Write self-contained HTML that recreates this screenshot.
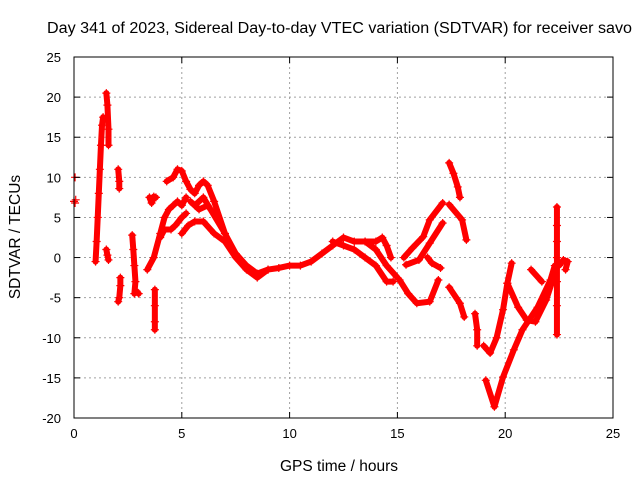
<!DOCTYPE html>
<html><head><meta charset="utf-8"><style>
body{margin:0;background:#fff;width:640px;height:480px;overflow:hidden}
svg{display:block;font-family:"Liberation Sans",sans-serif}
</style></head><body>
<svg id="chart" width="640" height="480" viewBox="0 0 640 480"></svg>
<script>
const xTicks=[0,5,10,15,20,25];
const yTicks=[-20,-15,-10,-5,0,5,10,15,20,25];
const traceStart=[[0,7],[0.05,6.8],[0.08,7.2],[0.05,10]];
const traceRise1=[[1.0,-0.5],[1.05,2],[1.1,5],[1.15,8],[1.2,11],[1.25,14],[1.3,16.5],[1.35,17.5]];
const traceRise2=[[1.5,20.5],[1.55,19],[1.6,16],[1.6,14]];
const traceLow1=[[1.5,1],[1.55,0.3],[1.6,-0.3]];
const traceSpk2a=[[2.05,11],[2.1,9.5],[2.1,8.6]];
const traceSpk2b=[[2.15,-2.5],[2.15,-3.5],[2.1,-5],[2.05,-5.5]];
const traceSeg3=[[2.7,2.8],[2.75,1],[2.8,-1],[2.85,-3],[2.8,-4.5],[2.9,-4.2],[3.0,-4.5]];
const traceSeg4=[[3.5,7.5],[3.6,6.8],[3.7,7.6],[3.8,7.5]];
const traceSeg5=[[3.75,-4],[3.75,-6],[3.75,-8],[3.75,-9]];
const traceLower=[[3.4,-1.5],[3.7,0],[4.0,3],[4.2,5],[4.4,6],[4.6,6.5],[4.8,7],[5.0,6.5],[5.2,7.5]];
const traceMid=[[4.0,2.5],[4.2,3.5],[4.5,3.5],[4.7,4],[5.0,5],[5.2,5.5]];
const traceTop=[[4.3,9.5],[4.6,10],[4.8,11],[5.0,10.8],[5.2,9.5],[5.4,8.5],[5.6,8],[5.8,9],[6.0,9.5],[6.2,9],[6.5,7],[7.0,3],[7.5,0.5],[8.0,-1],[8.5,-2],[9.0,-1.5],[9.5,-1.3],[10,-1],[10.5,-1],[11,-0.5],[11.5,0.5],[12,1.5],[12.5,2.5],[13,2],[13.5,2],[14,1],[14.5,-1],[15,-2.5]];
const traceBelow=[[5.0,3],[5.3,4],[5.6,4.5],[6.0,4.5],[6.5,3],[7,2],[7.5,0],[8,-1.5],[8.5,-2.5],[9,-1.5]];
const traceFill=[[5.4,7],[5.8,6],[6.2,6.5],[6.6,5],[7,3],[6.0,7.5],[5.6,6.5]];
const traceMid2=[[12,2],[12.5,1.5],[13,1],[13.5,0],[14,-1],[14.5,-3],[14.8,-3]];
const traceMid3=[[13.5,2],[14,2],[14.3,2.5],[14.5,1.5],[14.7,0]];
const traceUp1=[[15.3,0],[15.7,1.2],[16.2,2.6],[16.5,4.7],[17.1,6.8]];
const traceUp2=[[15.4,-0.9],[16.0,-0.3],[16.5,1.8],[17.1,4.3]];
const traceLoop=[[15.1,-2.8],[15.5,-4.5],[15.9,-5.7],[16.5,-5.5],[16.9,-2.8]];
const traceInner=[[16.4,0],[16.6,-0.7],[17.0,-1.3]];
const traceHigh=[[17.4,11.8],[17.6,10.5],[17.8,8.8],[17.9,7.5]];
const traceHigh2=[[17.4,6.6],[18.0,4.7],[18.2,2.2]];
const traceDrop=[[17.4,-3.7],[17.9,-5.7],[18.1,-7.4]];
const traceDrop2=[[18.6,-7],[18.7,-9],[18.7,-11]];
const traceV=[[19.1,-15.3],[19.5,-18.6],[19.9,-14.9],[20.4,-11.5],[20.8,-9],[21.5,-6.2],[22.1,-2.8],[22.3,-1]];
const traceV2=[[19.0,-11],[19.3,-11.9],[19.6,-10],[19.9,-6.5],[20.1,-3.2],[20.3,-0.7]];
const traceBranch=[[20.1,-3.2],[20.6,-6.2],[21.0,-7.8],[21.4,-8],[21.9,-5.3],[22.2,-2.8]];
const traceBranch2=[[21.2,-1.5],[21.7,-3]];
const traceSpike=[[22.4,6.3],[22.4,4],[22.4,2],[22.4,0],[22.4,-3],[22.4,-6],[22.4,-9.6]];
const traceEnd=[[22.5,-1],[22.7,-0.3],[22.9,-0.5],[22.8,-1.5]];
const allTraces=[traceStart,traceRise1,traceRise2,traceLow1,traceSpk2a,traceSpk2b,traceSeg3,traceSeg4,traceSeg5,traceLower,traceMid,traceTop,traceBelow,traceFill,traceMid2,traceMid3,traceUp1,traceUp2,traceLoop,traceInner,traceHigh,traceHigh2,traceDrop,traceDrop2,traceV,traceV2,traceBranch,traceBranch2,traceSpike,traceEnd];
const connected=[false,true,true,true,true,true,true,true,true,true,true,true,true,true,true,true,true,true,true,true,true,true,true,true,true,true,true,true,true,true];

const L=74,R=613,T=57,B=418,xMin=0,xMax=25,yMin=-20,yMax=25;
const sx=v=>L+(v-xMin)/(xMax-xMin)*(R-L);
const sy=v=>B-(v-yMin)/(yMax-yMin)*(B-T);
const NS="http://www.w3.org/2000/svg";
const svg=document.getElementById('chart');
function mk(tag,attrs,parent){const e=document.createElementNS(NS,tag);for(const k in attrs)e.setAttribute(k,attrs[k]);(parent||svg).appendChild(e);return e;}

const grid=mk('g',{});


xTicks.forEach(t=>{if(t>xMin&&t<xMax)mk('line',{x1:sx(t),x2:sx(t),y1:T,y2:B,stroke:'#a0a0a0','stroke-dasharray':'2,3'},grid);});
yTicks.forEach(t=>{if(t>yMin&&t<yMax)mk('line',{x1:L,x2:R,y1:sy(t),y2:sy(t),stroke:'#a0a0a0','stroke-dasharray':'2,3'},grid);});

const series=mk('g',{});


allTraces.forEach((tr,i)=>{
  if(connected[i]&&tr.length>1){
    const p=mk('polyline',{points:tr.map(d=>sx(d[0])+','+sy(d[1])).join(' '),fill:'none',stroke:'#ff0000','stroke-width':6,'stroke-linejoin':'round','stroke-linecap':'round'},series);
    
    
  }
  tr.forEach(d=>{
    const x=sx(d[0]),y=sy(d[1]);
    const m=mk('path',{d:`M${x-4},${y}H${x+4}M${x},${y-4}V${y+4}`,stroke:'#ff0000','stroke-width':1.2},series);
    
    
  });
});

const frame=mk('rect',{x:L,y:T,width:R-L,height:B-T,fill:'none',stroke:'#000','stroke-width':1});



const axes=mk('g',{'font-size':13,fill:'#000'});


xTicks.forEach(t=>{
  mk('line',{x1:sx(t),x2:sx(t),y1:B,y2:B-6,stroke:'#000'},axes);
  mk('line',{x1:sx(t),x2:sx(t),y1:T,y2:T+6,stroke:'#000'},axes);
  const tx=mk('text',{x:sx(t),y:B+20,'text-anchor':'middle'},axes);
  tx.textContent=t;
  
  
});
yTicks.forEach(t=>{
  mk('line',{x1:L,x2:L+6,y1:sy(t),y2:sy(t),stroke:'#000'},axes);
  mk('line',{x1:R,x2:R-6,y1:sy(t),y2:sy(t),stroke:'#000'},axes);
  const tx=mk('text',{x:L-13,y:sy(t)+5,'text-anchor':'end'},axes);
  tx.textContent=t;
  
  
});
</script>
<svg style="position:absolute;left:0;top:0" width="640" height="480" font-family="Liberation Sans, sans-serif">
<text x="47" y="33" font-size="15.5" textLength="585" lengthAdjust="spacingAndGlyphs">Day 341 of 2023, Sidereal Day-to-day VTEC variation (SDTVAR) for receiver savo</text>
<text x="339" y="471" font-size="15.5" text-anchor="middle">GPS time / hours</text>
<text x="20" y="237" font-size="15.5" text-anchor="middle" transform="rotate(-90 20 237)">SDTVAR / TECUs</text>
</svg>
</body></html>
